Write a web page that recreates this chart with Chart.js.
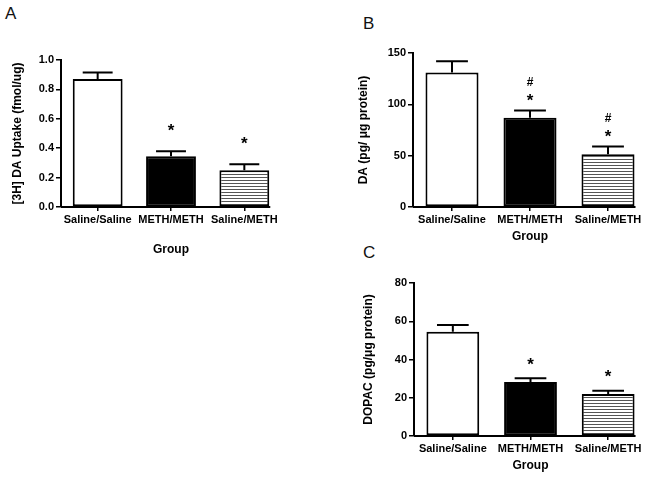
<!DOCTYPE html>
<html lang="en">
<head>
<meta charset="UTF-8">
<title>DA uptake, DA and DOPAC by group</title>
<script src="https://cdn.jsdelivr.net/npm/chart.js"></script>
<style>
  body { margin: 0; background: #fff; font-family: Arial, 'Liberation Sans', sans-serif; }
  .wrap { position: relative; width: 653px; height: 477px; overflow: hidden; }
  canvas { position: absolute; }
  .letter { position: absolute; font-size: 17px; line-height: 17px; color: #111; }
</style>
</head>
<body>
<div class="wrap">
  <div class="letter" style="left:5px; top:5px;">A</div>
  <div class="letter" style="left:363px; top:15px;">B</div>
  <div class="letter" style="left:363px; top:244px;">C</div>
  <canvas id="chartA" width="325" height="265" style="left:0; top:0;"></canvas>
  <canvas id="chartB" width="328" height="250" style="left:325px; top:0;"></canvas>
  <canvas id="chartC" width="328" height="227" style="left:325px; top:250px;"></canvas>
</div>

<script>
// data
const groups = ['Saline/Saline', 'METH/METH', 'Saline/METH'];

const uptakeMean = [0.87, 0.345, 0.25];
const uptakeSem = [0.045, 0.035, 0.04];
const uptakeMarks = [[], ['*'], ['*']];

const daMean = [131, 87, 51.5];
const daSem = [11, 7, 7.5];
const daMarks = [[], ['*', '#'], ['*', '#']];

const dopacMean = [54.5, 28.2, 22];
const dopacSem = [3.5, 2, 1.7];
const dopacMarks = [[], ['*'], ['*']];

const FONT = "Arial, 'Liberation Sans', sans-serif";

function stripes() {
  const c = document.createElement('canvas');
  c.width = 6; c.height = 3;
  const g = c.getContext('2d');
  g.fillStyle = '#fff';
  g.fillRect(0, 0, 6, 3);
  g.fillStyle = '#555';
  g.fillRect(0, 0, 6, 1);
  return g.createPattern(c, 'repeat');
}

// SEM caps, x axis line (stops at last bar like the original), significance marks
const errorBars = {
  id: 'errorBars',
  afterDatasetsDraw(chart, args, opts) {
    const ctx = chart.ctx;
    const y = chart.scales.y;
    const bars = chart.getDatasetMeta(0).data;
    const vals = chart.data.datasets[0].data;
    ctx.save();
    ctx.strokeStyle = '#000';
    ctx.lineWidth = 2;
    const last = bars[bars.length - 1];
    ctx.beginPath();
    ctx.moveTo(chart.chartArea.left, chart.chartArea.bottom);
    ctx.lineTo(last.x + last.width / 2 + 1, chart.chartArea.bottom);
    ctx.stroke();
    bars.forEach((bar, i) => {
      const top = y.getPixelForValue(vals[i] + opts.sem[i]);
      const half = bar.width * 0.3;
      ctx.beginPath();
      ctx.moveTo(bar.x, bar.y);
      ctx.lineTo(bar.x, top);
      ctx.moveTo(bar.x - half, top);
      ctx.lineTo(bar.x + half, top);
      ctx.stroke();
      ctx.fillStyle = '#000';
      ctx.textAlign = 'center';
      ctx.textBaseline = 'middle';
      opts.marks[i].forEach((m, k) => {
        const my = top - opts.gap - k * 15;
        if (m === '*') {
          ctx.font = 'bold 17px ' + FONT;
          ctx.fillText(m, bar.x, my + 4);
        } else {
          ctx.font = 'bold 12px ' + FONT;
          ctx.fillText(m, bar.x, my);
        }
      });
    });
    ctx.restore();
  }
};

function makeChart(id, cfg) {
  return new Chart(document.getElementById(id), {
    type: 'bar',
    data: {
      labels: groups,
      datasets: [{
        data: cfg.mean,
        backgroundColor: ['#ffffff', '#000000', stripes()],
        borderColor: '#000',
        borderWidth: 2,
        borderSkipped: false,
        barPercentage: 0.68,
        categoryPercentage: 1
      }]
    },
    options: {
      responsive: false,
      animation: false,
      layout: { padding: cfg.padding },
      plugins: {
        legend: { display: false },
        tooltip: { enabled: false },
        errorBars: { sem: cfg.sem, marks: cfg.marks, gap: cfg.gap }
      },
      scales: {
        x: {
          offset: true,
          border: { display: false },
          grid: { offset: false, drawOnChartArea: false, drawTicks: true, tickLength: 4, color: '#000', lineWidth: 1.5 },
          ticks: { color: '#000', padding: 2, maxRotation: 0, font: { family: FONT, size: 11, weight: 'bold' } },
          title: { display: true, text: 'Group', color: '#000', padding: { top: 0, bottom: 0 }, font: { family: FONT, size: 12, weight: 'bold' } },
          afterFit: (s) => { s.height = cfg.xHeight; }
        },
        y: {
          min: 0,
          max: cfg.max,
          border: { display: true, color: '#000', width: 2 },
          grid: { drawOnChartArea: false, drawTicks: true, tickLength: 5, color: '#000', lineWidth: 1.5 },
          ticks: {
            stepSize: cfg.step,
            color: '#000',
            padding: 2,
            font: { family: FONT, size: 11, weight: 'bold' },
            callback: cfg.fmt
          },
          title: { display: true, text: cfg.yTitle, color: '#000', padding: { top: cfg.titlePad, bottom: 0 }, font: { family: FONT, size: 12, weight: 'bold' } },
          afterFit: (s) => { s.width = cfg.yWidth; }
        }
      }
    },
    plugins: [errorBars]
  });
}

makeChart('chartA', {
  mean: uptakeMean, sem: uptakeSem, marks: uptakeMarks, gap: 24,
  max: 1.0, step: 0.2, fmt: (v) => Number(v).toFixed(1),
  yTitle: '[3H] DA Uptake (fmol/ug)', titlePad: 10, yWidth: 61, xHeight: 50,
  padding: { top: 60, right: 44, bottom: 8, left: 0 }
});

makeChart('chartB', {
  mean: daMean, sem: daSem, marks: daMarks, gap: 13,
  max: 150, step: 50, fmt: (v) => v,
  yTitle: 'DA (pg/ μg protein)', titlePad: 31, yWidth: 88, xHeight: 37,
  padding: { top: 53, right: 6, bottom: 6, left: 0 }
});

makeChart('chartC', {
  mean: dopacMean, sem: dopacSem, marks: dopacMarks, gap: 17,
  max: 80, step: 20, fmt: (v) => v,
  yTitle: 'DOPAC (pg/μg protein)', titlePad: 36, yWidth: 89, xHeight: 37,
  padding: { top: 33, right: 6, bottom: 4, left: 0 }
});
</script>
</body>
</html>
